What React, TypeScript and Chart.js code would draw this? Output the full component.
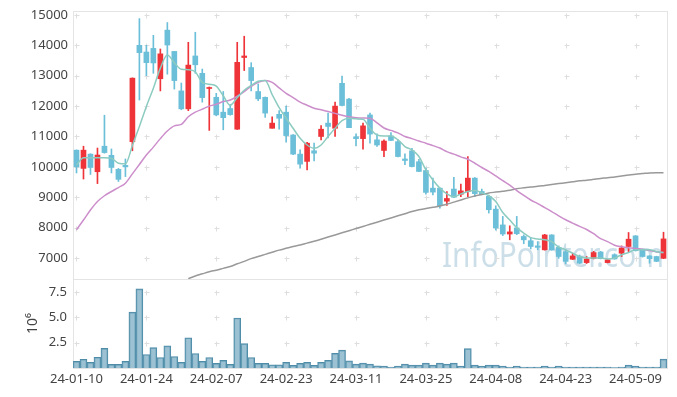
import React, { useEffect, useRef } from 'react';
import { Chart, registerables } from 'chart.js';

Chart.register(...registerables);

const dates = [
  '24-01-10', '24-01-11', '24-01-12', '24-01-15', '24-01-16', '24-01-17', '24-01-18', '24-01-19', '24-01-22', '24-01-23',
  '24-01-24', '24-01-25', '24-01-26', '24-01-29', '24-01-30', '24-01-31', '24-02-01', '24-02-02', '24-02-05', '24-02-06',
  '24-02-07', '24-02-08', '24-02-13', '24-02-14', '24-02-15', '24-02-16', '24-02-19', '24-02-20', '24-02-21', '24-02-22',
  '24-02-23', '24-02-26', '24-02-27', '24-02-28', '24-02-29', '24-03-04', '24-03-05', '24-03-06', '24-03-07', '24-03-08',
  '24-03-11', '24-03-12', '24-03-13', '24-03-14', '24-03-15', '24-03-18', '24-03-19', '24-03-20', '24-03-21', '24-03-22',
  '24-03-25', '24-03-26', '24-03-27', '24-03-28', '24-03-29', '24-04-01', '24-04-02', '24-04-03', '24-04-04', '24-04-05',
  '24-04-08', '24-04-09', '24-04-11', '24-04-12', '24-04-15', '24-04-16', '24-04-17', '24-04-18', '24-04-19', '24-04-22',
  '24-04-23', '24-04-24', '24-04-25', '24-04-26', '24-04-29', '24-04-30', '24-05-02', '24-05-03', '24-05-07', '24-05-08',
  '24-05-09', '24-05-10', '24-05-13', '24-05-14', '24-05-16',
];

const opens = [
  10550, 9950, 10420, 9840, 10680, 10380, 9920, 10050, 10830, 14000,
  13780, 13900, 12900, 14500, 13800, 12500, 11910, 13650, 13080, 12580,
  12290, 11800, 11920, 11240, 13600, 13270, 12480, 12290, 11270, 11730,
  11800, 11050, 10420, 10180, 10530, 11000, 11440, 11270, 12750, 12230,
  10990, 10930, 11710, 10890, 10540, 11020, 10830, 10260, 10530, 10170,
  9880, 9300, 9300, 8870, 9270, 9100, 9190, 9630, 9190, 9030,
  8610, 8090, 7790, 7990, 7710, 7570, 7400, 7270, 7760, 7350,
  7210, 6960, 7050, 6850, 6990, 7200, 6850, 7110, 7160, 7380,
  7730, 7290, 7070, 7050, 6990,
];
const highs = [
  10560, 10680, 10430, 10620, 11700, 10590, 9950, 10260, 12930, 14880,
  14000, 14330, 13880, 14750, 13800, 12760, 14100, 14430, 13220, 12630,
  12420, 12480, 12060, 14100, 14300, 13430, 12730, 12300, 11650, 11850,
  12000, 11060, 10560, 10810, 10780, 11360, 11770, 12130, 12990, 12260,
  11090, 11440, 11770, 11090, 10890, 11130, 10890, 10430, 10610, 10250,
  9960, 9630, 9310, 9190, 9660, 9430, 10340, 9650, 9270, 9070,
  8720, 8370, 8060, 8370, 7760, 7670, 7540, 7780, 7770, 7400,
  7290, 7160, 7100, 7050, 7220, 7220, 6950, 7140, 7400, 7840,
  7740, 7300, 7080, 7060, 7850,
];
const lows = [
  9800, 9600, 9750, 9450, 10450, 9800, 9520, 9680, 10530, 12200,
  13000, 13080, 12500, 13050, 12560, 11880, 11850, 13080, 12130, 11200,
  11680, 11220, 11700, 11230, 13170, 12500, 12180, 11630, 11270, 11240,
  10810, 10400, 9960, 9900, 10200, 10890, 10950, 11000, 12010, 11290,
  10690, 10580, 10780, 10670, 10340, 10860, 10330, 10070, 10000, 9840,
  9100, 9080, 8640, 8730, 8990, 9020, 9020, 9020, 9080, 8480,
  7920, 7740, 7600, 7770, 7470, 7300, 7270, 7260, 7260, 6990,
  6810, 6950, 6810, 6820, 6970, 6970, 6840, 6960, 7050, 7210,
  7230, 7030, 6830, 6880, 6980,
];
const closes = [
  10000, 10550, 9980, 10390, 10470, 9980, 9590, 10000, 12920, 13760,
  13430, 13420, 13720, 14010, 12840, 11910, 13350, 13360, 12280, 12610,
  11710, 11620, 11720, 13440, 13650, 12840, 12240, 11770, 11440, 11600,
  11030, 10420, 10090, 10780, 10450, 11240, 11330, 12000, 12020, 11290,
  10930, 11350, 11080, 10720, 10850, 10870, 10340, 10210, 10010, 9850,
  9160, 9170, 8720, 8960, 9000, 9210, 9630, 9120, 9090, 8590,
  7990, 7790, 7860, 7800, 7600, 7380, 7350, 7760, 7270, 7050,
  6890, 7070, 6830, 6970, 7180, 6980, 6940, 6970, 7330, 7620,
  7240, 7050, 6980, 6890, 7630,
];

const ma5 = [
  10060, 10300, 10300, 10300, 10300, 10280, 10120, 10100, 10700, 11330,
  11990, 12590, 13250, 13680, 13430, 13210, 13200, 13130, 12780, 12720,
  12660, 12340, 12030, 12280, 12520, 12680, 12820, 12840, 12380, 11950,
  11600, 11270, 10940, 10720, 10610, 10720, 11000, 11270, 11520, 11600,
  11580, 11570, 11270, 11050, 11020, 11020, 10890, 10670, 10560, 10340,
  9900, 9570, 9300, 9110, 9020, 9110, 9190, 9220, 9150, 9050,
  8860, 8500, 8250, 8000, 7820, 7670, 7630, 7600, 7540, 7360,
  7270, 7160, 7050, 7000, 7000, 7000, 6970, 7000, 7110, 7180,
  7270, 7270, 7270, 7210, 7180,
];
const ma20 = [
  7930, 8250, 8580, 8860, 9050, 9190, 9320, 9460, 9770, 10080,
  10390, 10650, 10930, 11180, 11350, 11400, 11650, 11800, 11900, 12000,
  12060, 12150, 12200, 12330, 12480, 12650, 12780, 12840, 12780, 12600,
  12420, 12280, 12130, 12030, 11930, 11880, 11820, 11760, 11700, 11650,
  11620, 11610, 11600, 11450, 11280, 11200, 11120, 11000, 10930, 10850,
  10780, 10700, 10620, 10500, 10420, 10330, 10250, 10120, 9980, 9850,
  9700, 9550, 9400, 9220, 9060, 8910, 8790, 8660, 8530, 8390,
  8260, 8150, 8040, 7940, 7800, 7640, 7540, 7420, 7370, 7340,
  7310, 7290, 7250, 7200, 7180,
];
const ma120 = [
  null, null, null, null, null, null, null, null, null, null,
  null, null, null, null, null, null, 6320, 6410, 6480, 6550,
  6600, 6660, 6720, 6810, 6890, 6980, 7050, 7120, 7190, 7260,
  7320, 7380, 7430, 7490, 7550, 7620, 7690, 7760, 7830, 7900,
  7970, 8040, 8110, 8180, 8250, 8320, 8390, 8460, 8530, 8590,
  8630, 8670, 8710, 8770, 8840, 8910, 8980, 9040, 9090, 9140,
  9170, 9200, 9230, 9280, 9310, 9340, 9360, 9390, 9420, 9450,
  9480, 9510, 9540, 9560, 9590, 9620, 9640, 9670, 9700, 9730,
  9760, 9780, 9800, 9810, 9810,
];

// volume in millions of shares
const volumes = [
  0.66, 0.86, 0.56, 1.06, 1.94, 0.36, 0.36, 0.66, 5.52, 7.82,
  1.33, 2.01, 1.04, 2.18, 1.14, 0.55, 2.99, 1.43, 0.65, 1.04,
  0.45, 0.75, 0.36, 4.94, 2.40, 1.04, 0.45, 0.45, 0.32, 0.32,
  0.55, 0.26, 0.45, 0.55, 0.26, 0.55, 0.75, 1.44, 1.76, 0.70,
  0.38, 0.48, 0.38, 0.22, 0.19, 0.10, 0.19, 0.38, 0.29, 0.29,
  0.48, 0.29, 0.48, 0.38, 0.48, 0.19, 1.92, 0.29, 0.19, 0.29,
  0.29, 0.19, 0.10, 0.19, 0.10, 0.10, 0.10, 0.19, 0.10, 0.19,
  0.10, 0.10, 0.10, 0.10, 0.10, 0.10, 0.10, 0.05, 0.10, 0.29,
  0.19, 0.10, 0.10, 0.10, 0.87,
];

const priceTicks = [7000, 8000, 9000, 10000, 11000, 12000, 13000, 14000, 15000];
const volumeTicks = [2.5, 5.0, 7.5];
const xTickIdx = [0, 10, 20, 30, 40, 50, 60, 70, 80];

const UP = '#ee3439';
const DOWN = '#6cbfd8';
const FONT = '"Noto Sans", "DejaVu Sans", sans-serif';

export default function App() {
  const ref = useRef<HTMLCanvasElement>(null);

  useEffect(() => {
    if (!ref.current) return;
    const bodies = opens.map((o, i) => [Math.min(o, closes[i]), Math.max(o, closes[i])]);
    const wicks = lows.map((l, i) => [l, highs[i]]);
    const colors = opens.map((o, i) => (closes[i] >= o ? UP : DOWN));

    const decor = {
      id: 'decor',
      beforeDatasetsDraw(chart: any) {
        const { ctx, scales } = chart;
        const x = scales.x;
        const y = scales.y;
        const yv = scales.yv;
        ctx.save();
        // watermark
        ctx.font = '35px ' + FONT;
        ctx.fillStyle = 'rgba(172,203,220,0.62)';
        ctx.textAlign = 'left';
        ctx.textBaseline = 'alphabetic';
        ctx.fillText('InfoPointer.com', x.left + 369, y.bottom - 12, 222);
        // panel borders
        ctx.strokeStyle = '#e4e4e4';
        ctx.lineWidth = 1;
        ctx.strokeRect(Math.round(x.left) + 0.5, Math.round(y.top) + 0.5, Math.round(x.right - x.left), Math.round(y.bottom - y.top));
        ctx.strokeRect(Math.round(x.left) + 0.5, Math.round(yv.top) + 0.5, Math.round(x.right - x.left), Math.round(yv.bottom - yv.top));
        // grid crosses
        ctx.strokeStyle = '#dedede';
        const cross = (px: number, py: number) => {
          const cx = Math.round(px) + 0.5;
          const cy = Math.round(py) + 0.5;
          ctx.beginPath();
          ctx.moveTo(cx - 2, cy);
          ctx.lineTo(cx + 3, cy);
          ctx.moveTo(cx, cy - 2);
          ctx.lineTo(cx, cy + 3);
          ctx.stroke();
        };
        xTickIdx.forEach((xi) => {
          const px = x.getPixelForValue(xi);
          priceTicks.forEach((v) => cross(px, y.getPixelForValue(v)));
          volumeTicks.forEach((v) => cross(px, yv.getPixelForValue(v)));
        });
        ctx.restore();
      },
      afterDraw(chart: any) {
        const { ctx, scales } = chart;
        const yv = scales.yv;
        ctx.save();
        ctx.translate(25, (yv.top + yv.bottom) / 2);
        ctx.rotate(-Math.PI / 2);
        ctx.font = '14px ' + FONT;
        ctx.fillStyle = '#444';
        ctx.textAlign = 'center';
        ctx.textBaseline = 'middle';
        ctx.fillText('10\u2076', 0, 0);
        ctx.restore();
      },
    };

    const tickFont = { family: FONT, size: 13 };
    const noPad = (s: any) => {
      s.width = 65;
      s.paddingTop = 0;
      s.paddingBottom = 0;
    };

    const chart = new Chart(ref.current, {
      type: 'bar',
      data: {
        labels: dates,
        datasets: [
          {
            type: 'line',
            label: 'MA5',
            data: ma5,
            yAxisID: 'y',
            borderColor: '#8ccbc0',
            borderWidth: 1.5,
            pointRadius: 0,
            cubicInterpolationMode: 'monotone',
            order: 0,
          },
          {
            type: 'line',
            label: 'MA20',
            data: ma20,
            yAxisID: 'y',
            borderColor: '#cc8ecb',
            borderWidth: 1.5,
            pointRadius: 0,
            cubicInterpolationMode: 'monotone',
            order: 0,
          },
          {
            type: 'line',
            label: 'MA120',
            data: ma120,
            yAxisID: 'y',
            borderColor: '#999999',
            borderWidth: 1.5,
            pointRadius: 0,
            cubicInterpolationMode: 'monotone',
            order: 0,
          },
          {
            type: 'bar',
            label: 'body',
            data: bodies as any,
            yAxisID: 'y',
            backgroundColor: colors,
            barThickness: 5,
            minBarLength: 1,
            grouped: false,
            order: 1,
          },
          {
            type: 'bar',
            label: 'wick',
            data: wicks as any,
            yAxisID: 'y',
            backgroundColor: colors,
            barThickness: 1,
            grouped: false,
            order: 2,
          },
          {
            type: 'bar',
            label: 'volume',
            data: volumes,
            yAxisID: 'yv',
            backgroundColor: 'rgba(122,172,195,0.75)',
            borderColor: '#4f8ca8',
            borderWidth: 1,
            barPercentage: 1,
            categoryPercentage: 1,
            grouped: false,
            order: 3,
          },
        ],
      },
      options: {
        animation: false,
        responsive: true,
        maintainAspectRatio: false,
        layout: { padding: { left: 0, top: 3, right: 2, bottom: 0 } },
        plugins: { legend: { display: false }, tooltip: { enabled: false } },
        scales: {
          x: {
            type: 'category',
            offset: true,
            grid: { display: false, drawTicks: false },
            border: { display: false },
            ticks: {
              autoSkip: false,
              maxRotation: 0,
              padding: 3,
              color: '#444',
              font: tickFont,
              callback: (v: any) => dates[v],
            },
            afterBuildTicks: (s: any) => {
              s.ticks = xTickIdx.map((v) => ({ value: v }));
            },
            afterFit: (s: any) => {
              s.height = 21;
              s.paddingLeft = 0;
              s.paddingRight = 0;
            },
          },
          yv: {
            type: 'linear',
            position: 'left',
            stack: 'panels',
            stackWeight: 89,
            min: 0,
            max: 8.79,
            grid: { display: false, drawTicks: false },
            border: { display: false },
            ticks: {
              autoSkip: false,
              padding: 6,
              color: '#444',
              font: tickFont,
              callback: (v: any) => Number(v).toFixed(1),
            },
            afterBuildTicks: (s: any) => {
              s.ticks = volumeTicks.map((v) => ({ value: v }));
            },
            afterFit: noPad,
          },
          y: {
            type: 'linear',
            position: 'left',
            stack: 'panels',
            stackWeight: 268,
            min: 6310,
            max: 15130,
            grid: { display: false, drawTicks: false },
            border: { display: false },
            ticks: {
              autoSkip: false,
              padding: 5,
              color: '#444',
              font: tickFont,
              callback: (v: any) => String(v),
            },
            afterBuildTicks: (s: any) => {
              s.ticks = priceTicks.map((v) => ({ value: v }));
            },
            afterFit: noPad,
          },
        },
      } as any,
      plugins: [decor],
    });

    return () => chart.destroy();
  }, []);

  return (
    <div style={{ width: 661, height: 381, position: 'relative' }}>
      <canvas ref={ref} />
    </div>
  );
}
